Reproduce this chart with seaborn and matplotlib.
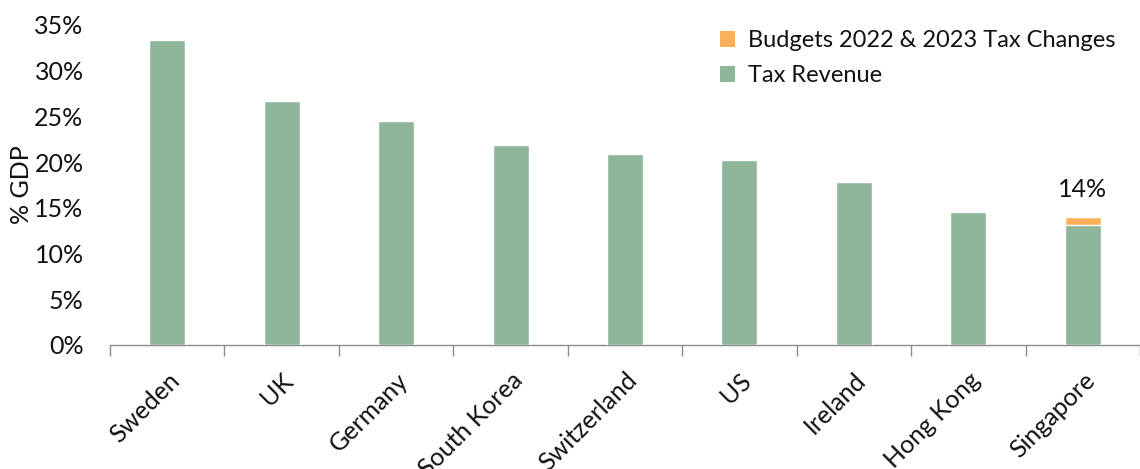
import matplotlib
matplotlib.use("Agg")
import matplotlib.pyplot as plt
from matplotlib.patches import Patch
from matplotlib.ticker import FixedLocator, PercentFormatter
import seaborn as sns
import pandas as pd

countries = ["Sweden", "UK", "Germany", "South Korea", "Switzerland",
             "US", "Ireland", "Hong Kong", "Singapore"]
tax_revenue = [33.4, 26.7, 24.5, 21.9, 20.9, 20.2, 17.8, 14.5, 13.1]
budget_changes = [0, 0, 0, 0, 0, 0, 0, 0, 0.9]

GREEN = "#8fb59b"
ORANGE = "#fbb05a"

df = pd.DataFrame({"country": countries,
                   "base": tax_revenue,
                   "change": budget_changes})
df["total"] = df["base"] + df["change"]

sns.set_theme(style="white")
plt.rcParams["font.family"] = ["Lato", "DejaVu Sans"]

fig = plt.figure(figsize=(11.4, 4.69), dpi=100)
ax = fig.add_axes([0.0965, 0.2644, 0.9035, 0.6823])

# stacked bars: total drawn first in orange, tax revenue on top in green
sns.barplot(data=df, x="country", y="total", color=ORANGE, width=0.315,
            saturation=1, ax=ax, zorder=2)
sns.barplot(data=df, x="country", y="base", color=GREEN, width=0.315,
            saturation=1, ax=ax, zorder=3)

ax.set_ylim(0, 35)
ax.set_xlim(-0.5, len(countries) - 0.5)
ax.yaxis.set_major_locator(FixedLocator(range(0, 36, 5)))
ax.yaxis.set_major_formatter(PercentFormatter(decimals=0))
ax.tick_params(axis="y", length=0, pad=19, labelsize=18, labelcolor="#111111")
ax.set_ylabel("% GDP", fontsize=18, color="#111111", labelpad=1)
ax.set_xlabel("")

# category separators on the x axis
ax.set_xticks([i - 0.5 for i in range(len(countries) + 1)], minor=True)
ax.tick_params(axis="x", which="minor", length=8, width=1, color="#8c8c8c",
               direction="out", bottom=True)
ax.tick_params(axis="x", which="major", length=0, pad=17, labelsize=18,
               labelcolor="#111111")
ax.set_xticks(range(len(countries)))
ax.set_xticklabels(countries, rotation=45, ha="right", va="top",
                   rotation_mode="anchor")

for side in ["left", "right", "top"]:
    ax.spines[side].set_visible(False)
ax.spines["bottom"].set_color("#8c8c8c")
ax.spines["bottom"].set_linewidth(1)

# value label on the bar carrying budget changes
for i, row in df.iterrows():
    if row["change"] > 0:
        ax.text(i, row["total"] + 1.7, f"{row['total']:.0f}%", ha="center",
                va="bottom", fontsize=18, color="#111111")

handles = [Patch(facecolor=ORANGE, edgecolor="none"),
           Patch(facecolor=GREEN, edgecolor="none")]
ax.legend(handles, ["Budgets 2022 & 2023 Tax Changes", "Tax Revenue"],
          loc="upper right", bbox_to_anchor=(0.997, 1.05), frameon=False,
          fontsize=17, handlelength=0.65, handleheight=0.65,
          handletextpad=0.55, labelspacing=0.6, labelcolor="#111111")

fig.savefig("out.png", dpi=100)
